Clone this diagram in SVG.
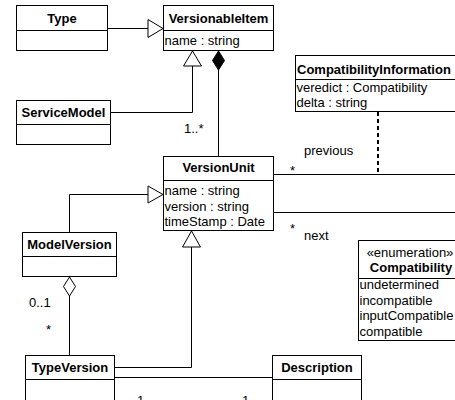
<svg xmlns="http://www.w3.org/2000/svg" width="455" height="400" viewBox="0 0 455 400">
<defs>
<style>
.box{fill:#fff;stroke:#000;stroke-width:1}
.t{font-family:"Liberation Sans",Arial,sans-serif;font-size:13px;fill:#000}
.b{font-weight:bold;text-anchor:middle}
.c{fill:none;stroke:#000;stroke-width:1}
.tri{fill:#fff;stroke:#000;stroke-width:1}
</style>
</defs>
<rect width="455" height="400" fill="#fff"/>
<g id="connectors">
  <path class="c" d="M107.5 28.5H148"/>
  <path class="tri" d="M148 19.5L163 28.5L148 37.5Z"/>
  <path class="c" d="M111 112.5H192.5V66"/>
  <path class="tri" d="M192.5 51L183.5 66H201.5Z"/>
  <path class="c" d="M218.5 70V156"/>
  <path d="M218.5 51L224.5 60.5L218.5 70L212.5 60.5Z" fill="#000" stroke="#000"/>
  <text class="t" x="184" y="133">1..*</text>
  <path class="c" d="M69.5 232V194.5H148"/>
  <path class="tri" d="M148 186L163 194.5L148 203Z"/>
  <path class="c" d="M69.5 296V355"/>
  <path class="tri" d="M69.5 277L75.5 286.5L69.5 296L63.5 286.5Z"/>
  <text class="t" x="29" y="307">0..1</text>
  <text class="t" x="46" y="334">*</text>
  <path class="c" d="M114 367.5H191.5V247"/>
  <path class="tri" d="M191.5 231L182.5 247H200.5Z"/>
  <path class="c" d="M114 377.5H272"/>
  <text class="t" x="137" y="405">1</text>
  <text class="t" x="242" y="405">1</text>
  <path class="c" d="M274 174.5H460"/>
  <path class="c" d="M274 212.5H460"/>
  <text class="t" x="304" y="155">previous</text>
  <text class="t" x="290" y="175">*</text>
  <text class="t" x="290" y="233">*</text>
  <text class="t" x="304" y="240">next</text>
  <path d="M378 112V174" fill="none" stroke="#000" stroke-width="2" stroke-dasharray="4 3"/>
</g>
<g id="Type">
  <rect class="box" x="16.5" y="5.5" width="91" height="45"/>
  <path class="c" d="M16.5 30.5H107.5"/>
  <text class="t b" x="62" y="23">Type</text>
</g>
<g id="VersionableItem">
  <rect class="box" x="163.5" y="5.5" width="110" height="45"/>
  <path class="c" d="M163.5 30.5H273.5"/>
  <text class="t b" x="218.5" y="23">VersionableItem</text>
  <text class="t" x="164.5" y="45">name : string</text>
</g>
<g id="ServiceModel">
  <rect class="box" x="16.5" y="100.5" width="94" height="44"/>
  <path class="c" d="M16.5 124.5H110.5"/>
  <text class="t b" x="63.5" y="117">ServiceModel</text>
</g>
<g id="CompatibilityInformation">
  <rect class="box" x="295.5" y="55.5" width="170" height="56"/>
  <path class="c" d="M295.5 79.5H465.5"/>
  <text class="t" x="297" y="74" font-weight="bold">CompatibilityInformation</text>
  <text class="t" x="296.5" y="92">veredict : Compatibility</text>
  <text class="t" x="296.5" y="107">delta : string</text>
</g>
<g id="VersionUnit">
  <rect class="box" x="163.5" y="156.5" width="110" height="74"/>
  <path class="c" d="M163.5 180.5H273.5"/>
  <text class="t b" x="218.5" y="172">VersionUnit</text>
  <text class="t" x="164.5" y="195">name : string</text>
  <text class="t" x="164.5" y="210.5">version : string</text>
  <text class="t" x="164.5" y="226">timeStamp : Date</text>
</g>
<g id="ModelVersion">
  <rect class="box" x="22.5" y="232.5" width="94" height="44"/>
  <path class="c" d="M22.5 256.5H116.5"/>
  <text class="t b" x="69.5" y="249">ModelVersion</text>
</g>
<g id="Compatibility">
  <rect class="box" x="358.5" y="240.5" width="106" height="100"/>
  <path class="c" d="M358.5 278.5H464.5"/>
  <text class="t" x="410" y="257" text-anchor="middle">«enumeration»</text>
  <text class="t b" x="411" y="272">Compatibility</text>
  <text class="t" x="359.5" y="289">undetermined</text>
  <text class="t" x="359.5" y="304.5">incompatible</text>
  <text class="t" x="359.5" y="320">inputCompatible</text>
  <text class="t" x="359.5" y="335.5">compatible</text>
</g>
<g id="TypeVersion">
  <rect class="box" x="25.5" y="355.5" width="89" height="60"/>
  <path class="c" d="M25.5 379.5H114.5"/>
  <text class="t b" x="70" y="372">TypeVersion</text>
</g>
<g id="Description">
  <rect class="box" x="272.5" y="355.5" width="89" height="60"/>
  <path class="c" d="M272.5 379.5H361.5"/>
  <text class="t b" x="317" y="372">Description</text>
</g>
</svg>
